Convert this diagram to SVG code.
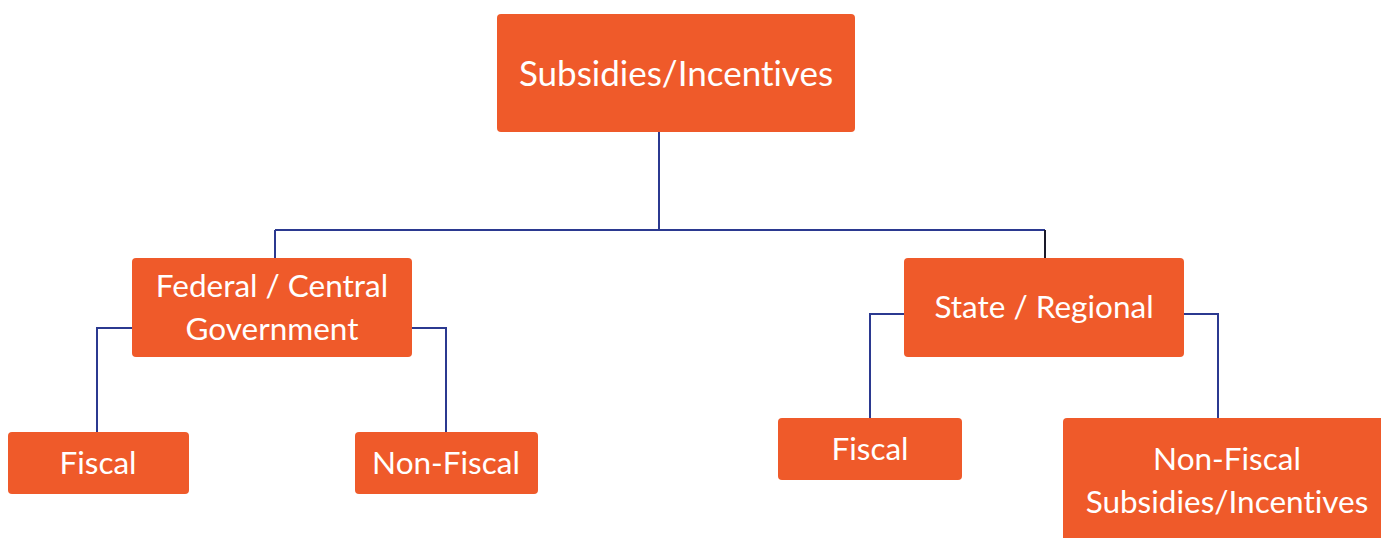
<svg xmlns="http://www.w3.org/2000/svg" width="1381" height="538" viewBox="0 0 1381 538">
<style>
.box{fill:#EF5A2A;}
.t{font-family:Lato,"Open Sans","Liberation Sans",sans-serif;fill:#fff;text-anchor:middle;font-size:31.5px;font-variant-ligatures:none;}
.big{font-size:35px;}
.c{fill:none;stroke:#2B3990;stroke-width:2;}
</style>
<rect width="1381" height="538" fill="#fff"/>
<g id="connectors">
<path class="c" d="M659 132V230M275 230H1045"/>
<path class="c" d="M275 230V258"/>
<path class="c" style="stroke:#1a1a2a" d="M1045 230V258"/>
<path class="c" d="M132 328H97V432M412 328H446V432"/>
<path class="c" d="M904 314H870V418M1184 314H1218V418"/>
</g>
<g id="root"><rect class="box" x="497" y="14" width="358" height="118" rx="4"/><text class="t big" x="676" y="86">Subsidies/Incentives</text></g>
<g id="federal"><rect class="box" x="132" y="258" width="280" height="99" rx="4"/><text class="t" x="272" y="297">Federal / Central</text><text class="t" x="272" y="340">Government</text></g>
<g id="state"><rect class="box" x="904" y="258" width="280" height="99" rx="4"/><text class="t" x="1044" y="318">State / Regional</text></g>
<g id="fed-fiscal"><rect class="box" x="8" y="432" width="181" height="62" rx="4"/><text class="t" x="98" y="474">Fiscal</text></g>
<g id="fed-nonfiscal"><rect class="box" x="355" y="432" width="183" height="62" rx="4"/><text class="t" x="446" y="474">Non-Fiscal</text></g>
<g id="state-fiscal"><rect class="box" x="778" y="418" width="184" height="62" rx="4"/><text class="t" x="870" y="460">Fiscal</text></g>
<g id="state-nonfiscal"><rect class="box" x="1063" y="418" width="330" height="130" rx="4"/><text class="t" x="1227" y="470">Non-Fiscal</text><text class="t" x="1227" y="513">Subsidies/Incentives</text></g>
</svg>
